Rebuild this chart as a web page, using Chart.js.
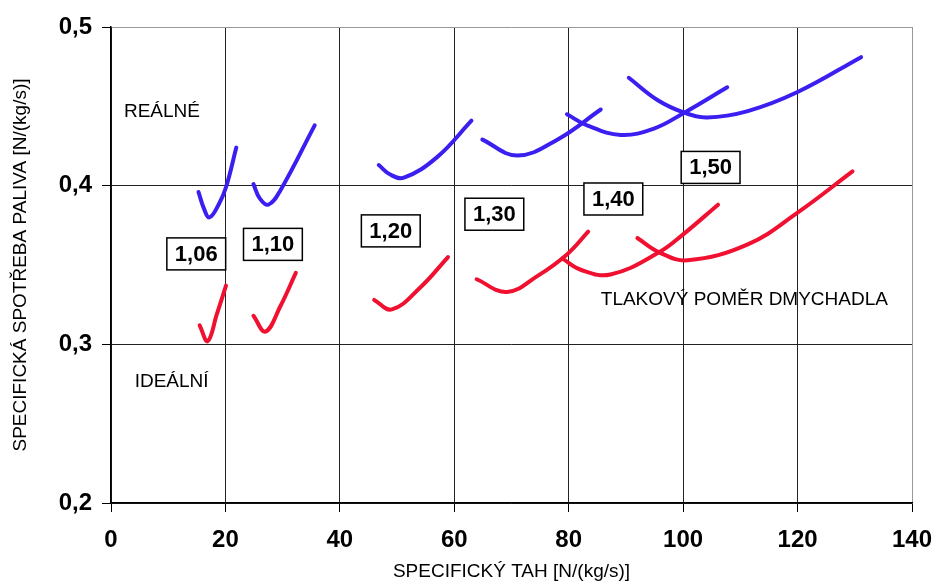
<!DOCTYPE html>
<html>
<head>
<meta charset="utf-8">
<script src="https://cdn.jsdelivr.net/npm/chart.js@4.4.0/dist/chart.umd.min.js"></script>
<style>
    html, body { margin: 0; padding: 0; background: #fff; }
    #wrap { width: 936px; height: 585px; }
</style>
</head>
<body>
<div id="wrap"><canvas id="myChart"></canvas></div>
<script>
// osy
const xTicks = [0, 20, 40, 60, 80, 100, 120, 140];
const yTicks = [0.2, 0.3, 0.4, 0.5];

// reálné krivky (modré) [specifický tah, spotřeba]
const real106 = [[15.3, 0.396], [16.2, 0.386], [17.2, 0.380], [18.8, 0.388], [20.1, 0.399], [21.9, 0.424]];
const real110 = [[24.9, 0.401], [26.0, 0.392], [27.5, 0.388], [29.6, 0.397], [35.6, 0.438]];
const real120 = [[46.8, 0.413], [48.8, 0.407], [51.2, 0.405], [57.0, 0.418], [63.0, 0.441]];
const real130 = [[64.9, 0.429], [71.0, 0.419], [78.0, 0.429], [85.6, 0.448]];
const real140 = [[79.7, 0.445], [83.2, 0.438], [89.1, 0.432], [94.9, 0.436], [100.2, 0.446], [107.7, 0.462]];
const real150 = [[90.5, 0.468], [95.5, 0.454], [100.2, 0.446], [104.2, 0.443], [111.3, 0.447], [120.0, 0.459], [131.1, 0.481]];

// ideální krivky (červené)
const ideal106 = [[15.5, 0.312], [16.9, 0.302], [18.5, 0.319], [20.1, 0.337]];
const ideal110 = [[24.9, 0.318], [27.0, 0.308], [29.6, 0.324], [32.3, 0.345]];
const ideal120 = [[46.0, 0.328], [49.1, 0.322], [54.1, 0.336], [58.9, 0.355]];
const ideal130 = [[63.9, 0.341], [69.2, 0.333], [74.5, 0.343], [79.8, 0.357], [83.4, 0.371]];
const ideal140 = [[78.9, 0.354], [82.1, 0.347], [87.3, 0.344], [95.8, 0.358], [99.9, 0.369], [106.1, 0.388]];
const ideal150 = [[92.0, 0.367], [95.8, 0.358], [100.8, 0.353], [111.3, 0.363], [120.0, 0.383], [129.6, 0.409]];

// popisky tlakových poměrů
const ratios = ['1,06', '1,10', '1,20', '1,30', '1,40', '1,50'];
const ratioX = [14.9, 28.3, 48.9, 67.0, 87.8, 104.8];
const ratioY = [0.357, 0.363, 0.3715, 0.382, 0.3916, 0.4115];

// ostatní texty v grafu
const notes = ['REÁLNÉ', 'IDEÁLNÍ', 'TLAKOVÝ POMĚR DMYCHADLA'];
const noteX = [8.9, 10.6, 110.7];
const noteY = [0.4466, 0.2765, 0.328];

const BLUE = '#3b1ff0';
const RED = '#f01030';

function curve(points, color) {
    return {
        data: points.map(p => ({ x: p[0], y: p[1] })),
        showLine: true,
        borderColor: color,
        backgroundColor: color,
        borderWidth: 4,
        borderCapStyle: 'round',
        pointRadius: 0,
        tension: 0.4
    };
}

const labelsPlugin = {
    id: 'labelsPlugin',
    afterDatasetsDraw(chart) {
        const ctx = chart.ctx;
        const xs = chart.scales.x, ys = chart.scales.y;
        ctx.save();
        ctx.textAlign = 'center';
        ctx.textBaseline = 'middle';
        ctx.fillStyle = '#000';
        ctx.font = '19px "Liberation Sans", Arial, sans-serif';
        notes.forEach((t, i) => {
            ctx.fillText(t, xs.getPixelForValue(noteX[i]), ys.getPixelForValue(noteY[i]));
        });
        ctx.font = 'bold 22px "Liberation Sans", Arial, sans-serif';
        ratios.forEach((t, i) => {
            const cx = xs.getPixelForValue(ratioX[i]);
            const cy = ys.getPixelForValue(ratioY[i]);
            const w = ctx.measureText(t).width + 16;
            const h = 32;
            ctx.fillStyle = '#fff';
            ctx.fillRect(cx - w / 2, cy - h / 2, w, h);
            ctx.strokeStyle = '#000';
            ctx.lineWidth = 1.5;
            ctx.strokeRect(cx - w / 2, cy - h / 2, w, h);
            ctx.fillStyle = '#000';
            ctx.fillText(t, cx, cy + 1);
        });
        ctx.restore();
    }
};

const ctx = document.getElementById('myChart').getContext('2d');
new Chart(ctx, {
    type: 'scatter',
    data: {
        datasets: [
            curve(real106, BLUE), curve(real110, BLUE), curve(real120, BLUE),
            curve(real130, BLUE), curve(real140, BLUE), curve(real150, BLUE),
            curve(ideal106, RED), curve(ideal110, RED), curve(ideal120, RED),
            curve(ideal130, RED), curve(ideal140, RED), curve(ideal150, RED)
        ]
    },
    options: {
        responsive: true,
        maintainAspectRatio: false,
        animation: false,
        layout: { padding: { top: 27, right: 24, left: 0, bottom: 0 } },
        plugins: {
            legend: { display: false },
            tooltip: { enabled: false }
        },
        scales: {
            x: {
                type: 'linear',
                min: xTicks[0],
                max: xTicks[xTicks.length - 1],
                afterBuildTicks: s => { s.ticks = xTicks.map(v => ({ value: v })); },
                afterFit: s => { s.height = 82; s.paddingLeft = 0; s.paddingRight = 0; },
                grid: {
                    color: c => (c.tick && c.tick.value === 140 ? '#999' : '#222'),
                    tickColor: '#000',
                    tickLength: 9,
                    lineWidth: 1
                },
                border: { color: '#000', width: 1.5 },
                ticks: {
                    padding: 14,
                    color: '#000',
                    font: { family: '"Liberation Sans", Arial, sans-serif', size: 24, weight: 'bold' }
                },
                title: {
                    display: true,
                    text: 'SPECIFICKÝ TAH [N/(kg/s)]',
                    color: '#000',
                    padding: { top: 0, bottom: 2 },
                    font: { family: '"Liberation Sans", Arial, sans-serif', size: 19 }
                }
            },
            y: {
                type: 'linear',
                min: yTicks[0],
                max: yTicks[yTicks.length - 1],
                afterBuildTicks: s => { s.ticks = yTicks.map(v => ({ value: v })); },
                afterFit: s => { s.width = 111; s.paddingTop = 0; s.paddingBottom = 0; },
                grid: {
                    color: c => (c.tick && c.tick.value > 0.49 ? '#999' : '#222'),
                    tickColor: '#000',
                    tickLength: 9,
                    lineWidth: 1
                },
                border: { color: '#000', width: 1.5 },
                ticks: {
                    padding: 10,
                    color: '#000',
                    callback: v => v.toFixed(1).replace('.', ','),
                    font: { family: '"Liberation Sans", Arial, sans-serif', size: 24, weight: 'bold' }
                },
                title: {
                    display: true,
                    text: 'SPECIFICKÁ SPOTŘEBA PALIVA [N/(kg/s)]',
                    color: '#000',
                    padding: { top: 9, bottom: 0 },
                    font: { family: '"Liberation Sans", Arial, sans-serif', size: 19 }
                }
            }
        }
    },
    plugins: [labelsPlugin]
});
</script>
</body>
</html>
